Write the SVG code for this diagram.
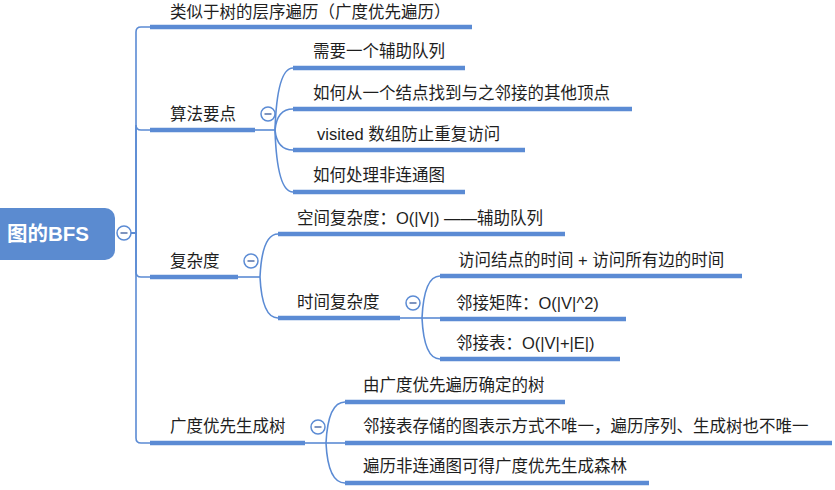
<svg xmlns="http://www.w3.org/2000/svg" width="835" height="490" viewBox="0 0 835 490">
<defs>
<style>
.t{font-family:"Liberation Sans","Noto Sans CJK SC",sans-serif;font-size:16.5px;fill:#1e1e1e}
.bar{stroke:#5b8bd4;stroke-width:4.5;fill:none}
.ln{stroke:#5b8bd4;stroke-width:1.6;fill:none}
.c{fill:#fff;stroke:#5b8bd4;stroke-width:1.5}
.m{stroke:#7088b8;stroke-width:1.8}
</style>
<g id="collapse">
<circle class="c" cx="0" cy="0" r="7"/>
<line class="m" x1="-3.5" y1="0" x2="3.5" y2="0"/>
</g>
</defs>
<rect width="835" height="490" fill="#fff"/>
<g id="connectors">
<path class="ln" d="M131,233 H136 V32 Q136,27 141,27 H150"/>
<path class="ln" d="M131,233 H136 V125 Q136,130 141,130 H150"/>
<path class="ln" d="M131,233 H136 V272 Q136,277 141,277 H150"/>
<path class="ln" d="M131,233 H136 V438 Q136,443 141,443 H150"/>
<path class="ln" d="M255,130 H275"/>
<path class="ln" d="M275,130 Q277,68 293,68"/>
<path class="ln" d="M275,130 Q277,109 293,109"/>
<path class="ln" d="M275,130 Q277,150 293,150"/>
<path class="ln" d="M275,130 Q277,192 293,192"/>
<path class="ln" d="M238,277 H260"/>
<path class="ln" d="M260,277 Q262,234 278,234"/>
<path class="ln" d="M260,277 Q262,318 278,318"/>
<path class="ln" d="M400,318 H422"/>
<path class="ln" d="M422,318 Q424,276 440,276"/>
<path class="ln" d="M422,318 H440"/>
<path class="ln" d="M422,318 Q424,359 440,359"/>
<path class="ln" d="M305,443 H326"/>
<path class="ln" d="M326,443 Q328,402 345,402"/>
<path class="ln" d="M326,443 H345"/>
<path class="ln" d="M326,443 Q328,483 345,483"/>
</g>
<g id="root">
<rect x="-12" y="208" width="127" height="52" rx="10" fill="#5b8bd0"/>
<text x="7" y="241" font-family="Liberation Sans,'Noto Sans CJK SC',sans-serif" font-size="20.5" font-weight="bold" fill="#fff">图的BFS</text>
<use href="#collapse" x="124" y="233"/>
</g>
<g id="n1">
<line class="bar" x1="150" y1="27" x2="472" y2="27"/>
<text class="t" x="170" y="18">类似于树的层序遍历（广度优先遍历）</text>
</g>
<g id="n2">
<line class="bar" x1="150" y1="130" x2="255" y2="130"/>
<text class="t" x="170" y="120">算法要点</text>
<use href="#collapse" x="268" y="114"/>
</g>
<g id="n2a">
<line class="bar" x1="293" y1="68" x2="465" y2="68"/>
<text class="t" x="313" y="57">需要一个辅助队列</text>
</g>
<g id="n2b">
<line class="bar" x1="293" y1="109" x2="632" y2="109"/>
<text class="t" x="313" y="99">如何从一个结点找到与之邻接的其他顶点</text>
</g>
<g id="n2c">
<line class="bar" x1="293" y1="150" x2="525" y2="150"/>
<text class="t" x="317" y="140">visited 数组防止重复访问</text>
</g>
<g id="n2d">
<line class="bar" x1="293" y1="192" x2="465" y2="192"/>
<text class="t" x="313" y="181">如何处理非连通图</text>
</g>
<g id="n3">
<line class="bar" x1="150" y1="277" x2="238" y2="277"/>
<text class="t" x="170" y="267">复杂度</text>
<use href="#collapse" x="251" y="261"/>
</g>
<g id="n3a">
<line class="bar" x1="278" y1="234" x2="565" y2="234"/>
<text class="t" x="297" y="224">空间复杂度：O(|V|) ——辅助队列</text>
</g>
<g id="n3b">
<line class="bar" x1="278" y1="318" x2="400" y2="318"/>
<text class="t" x="297" y="308">时间复杂度</text>
<use href="#collapse" x="413" y="303"/>
</g>
<g id="n3b1">
<line class="bar" x1="440" y1="276" x2="742" y2="276"/>
<text class="t" x="458" y="266">访问结点的时间 + 访问所有边的时间</text>
</g>
<g id="n3b2">
<line class="bar" x1="440" y1="319" x2="626" y2="319"/>
<text class="t" x="456" y="309">邻接矩阵：O(|V|^2)</text>
</g>
<g id="n3b3">
<line class="bar" x1="440" y1="359" x2="620" y2="359"/>
<text class="t" x="456" y="349">邻接表：O(|V|+|E|)</text>
</g>
<g id="n4">
<line class="bar" x1="150" y1="443" x2="305" y2="443"/>
<text class="t" x="170" y="432">广度优先生成树</text>
<use href="#collapse" x="318" y="427"/>
</g>
<g id="n4a">
<line class="bar" x1="345" y1="402" x2="565" y2="402"/>
<text class="t" x="363" y="391">由广度优先遍历确定的树</text>
</g>
<g id="n4b">
<line class="bar" x1="345" y1="443" x2="832" y2="443"/>
<text class="t" x="363" y="432">邻接表存储的图表示方式不唯一，遍历序列、生成树也不唯一</text>
</g>
<g id="n4c">
<line class="bar" x1="345" y1="483" x2="649" y2="483"/>
<text class="t" x="363" y="472">遍历非连通图可得广度优先生成森林</text>
</g>
</svg>
